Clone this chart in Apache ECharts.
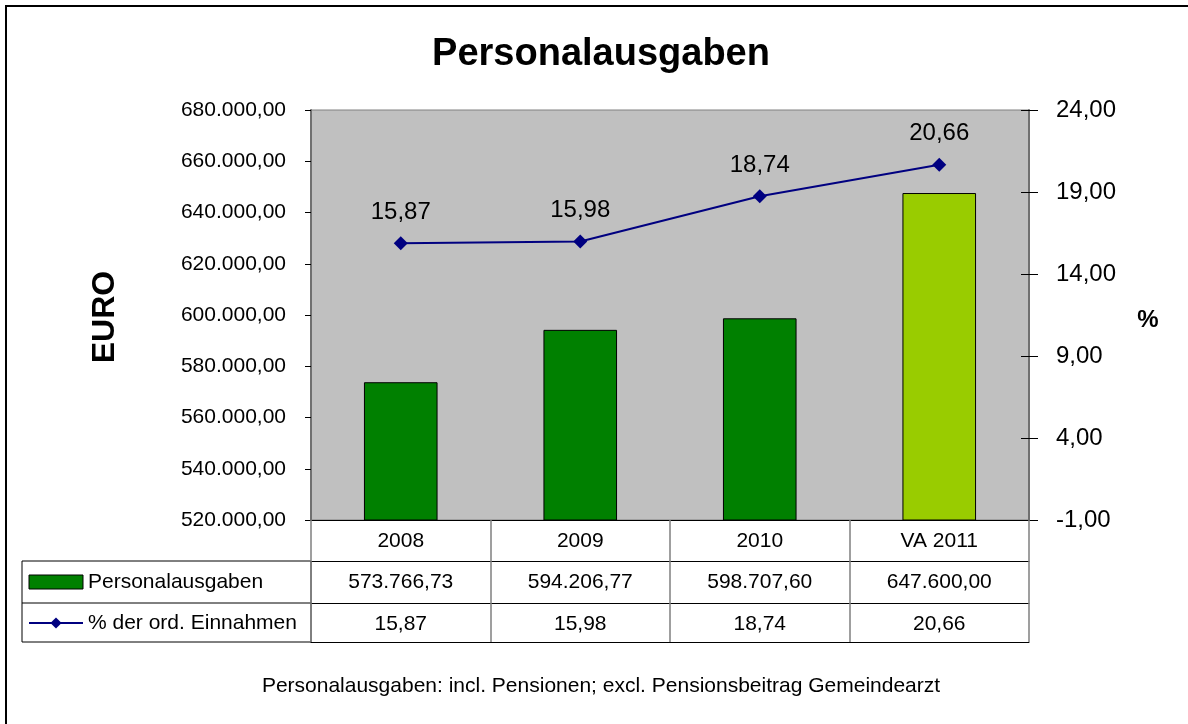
<!DOCTYPE html>
<html>
<head>
<meta charset="utf-8">
<script src="https://cdn.jsdelivr.net/npm/echarts@6/dist/echarts.min.js"></script>
<style>
html,body{margin:0;padding:0;background:#fff;}
#chart{width:1188px;height:724px;}
</style>
</head>
<body>
<div id="chart"></div>
<script>
// Daten
var categories = ['2008', '2009', '2010', 'VA 2011'];
var personal = [573766.73, 594206.77, 598707.60, 647600.00];
var percent = [15.87, 15.98, 18.74, 20.66];
var barColors = ['#008000', '#008000', '#008000', '#99CC00'];
var pctTicks = [-1, 4, 9, 14, 19, 24];

var FONT = 'Liberation Sans, Arial, sans-serif';

// 1234567.8 -> 1.234.567,80
function de(v){
	var s = Number(v).toFixed(2);
	var p = s.split('.');
	var neg = p[0].charAt(0) == '-';
	var ip = neg ? p[0].substring(1) : p[0];
	ip = ip.replace(/\B(?=(\d{3})+(?!\d))/g, '.');
	return (neg ? '-' : '') + ip + ',' + p[1];
}

var barData = [];
for(var i = 0; i < personal.length; i++){
	barData.push({value: personal[i], itemStyle: {color: barColors[i]}});
}

function tableAxis(offset, labels){
	return {
		type: 'category',
		position: 'bottom',
		offset: offset,
		data: categories,
		axisLine: {show: true, onZero: false, lineStyle: {color: '#000', width: 1}},
		axisTick: {show: false},
		axisLabel: {
			show: labels != null,
			margin: 21,
			verticalAlign: 'middle',
			fontSize: 21,
			fontFamily: FONT,
			color: '#000',
			formatter: function(v, idx){ return labels ? labels[idx] : ''; }
		}
	};
}

var chart = echarts.init(document.getElementById('chart'));
var option = {
	backgroundColor: '#fff',
	animation: false,
	grid: {
		left: 311, right: 159, top: 110, bottom: 204,
		show: true,
		backgroundColor: '#C0C0C0',
		borderColor: '#808080',
		borderWidth: 1
	},
	legend: {
		orient: 'vertical',
		left: 28,
		top: 571,
		padding: 0,
		itemWidth: 54,
		itemHeight: 14,
		itemGap: 19,
		selectedMode: false,
		textStyle: {fontSize: 21, fontFamily: FONT, color: '#000', lineHeight: 22},
		data: [
			{name: 'Personalausgaben', icon: 'rect', itemStyle: {color: '#008000', borderColor: '#000', borderWidth: 1}},
			{name: '% der ord. Einnahmen'}
		]
	},
	xAxis: [
		{
			type: 'category',
			position: 'bottom',
			data: categories,
			axisLine: {show: true, onZero: false, lineStyle: {color: '#000', width: 1}},
			axisTick: {show: true, length: 122, lineStyle: {color: '#808080', width: 1.5}},
			axisLabel: {
				margin: 21,
				verticalAlign: 'middle',
				fontSize: 21,
				fontFamily: FONT,
				color: '#000'
			}
		},
		tableAxis(41, personal.map(de)),
		tableAxis(83, percent.map(de)),
		tableAxis(122, null)
	],
	yAxis: [
		{
			type: 'value',
			position: 'left',
			min: 520000,
			max: 680000,
			interval: 20000,
			splitLine: {show: false},
			axisLine: {show: true, lineStyle: {color: '#707070', width: 2}},
			axisTick: {show: true, length: 6, lineStyle: {color: '#000'}},
			axisLabel: {
				margin: 25,
				fontSize: 21,
				fontFamily: FONT,
				color: '#000',
				formatter: function(v){ return de(v); }
			}
		},
		{
			type: 'value',
			position: 'right',
			min: -1,
			max: 24,
			splitLine: {show: false},
			axisLine: {show: true, lineStyle: {color: '#707070', width: 2}},
			axisTick: {show: true, length: 9, customValues: pctTicks, lineStyle: {color: '#000'}},
			axisLabel: {
				margin: 27,
				fontSize: 24,
				fontFamily: FONT,
				color: '#000',
				customValues: pctTicks,
				formatter: function(v){ return de(v); }
			}
		},
		{
			type: 'value',
			position: 'right',
			min: -1,
			max: 24,
			splitLine: {show: false},
			axisLine: {show: false},
			axisTick: {show: true, inside: true, length: 8, customValues: pctTicks, lineStyle: {color: '#000'}},
			axisLabel: {show: false, customValues: pctTicks}
		}
	],
	series: [
		{
			name: 'Personalausgaben',
			type: 'bar',
			xAxisIndex: 0,
			yAxisIndex: 0,
			barWidth: '41%',
			itemStyle: {color: '#008000', borderColor: '#000', borderWidth: 1},
			data: barData
		},
		{
			name: '% der ord. Einnahmen',
			type: 'line',
			xAxisIndex: 0,
			yAxisIndex: 1,
			symbol: 'diamond',
			symbolSize: 14,
			itemStyle: {color: '#000080'},
			lineStyle: {color: '#000080', width: 2},
			label: {
				show: true,
				position: 'top',
				distance: 12,
				fontSize: 24,
				fontFamily: FONT,
				color: '#000',
				formatter: function(p){ return de(p.value); }
			},
			data: percent
		}
	],
	graphic: [
		{
			type: 'rect',
			shape: {x: 6, y: 6, width: 1300, height: 800},
			style: {fill: null, stroke: '#000', lineWidth: 2},
			silent: true
		},
		{
			type: 'rect',
			shape: {x: 22, y: 561, width: 289, height: 81},
			style: {fill: null, stroke: '#000', lineWidth: 1},
			silent: true
		},
		{
			type: 'line',
			shape: {x1: 22, y1: 603, x2: 311, y2: 603},
			style: {stroke: '#000', lineWidth: 1},
			silent: true
		},
		{
			type: 'text',
			x: 601, y: 55,
			style: {text: 'Personalausgaben', font: 'bold 38px ' + FONT, fill: '#000', textAlign: 'center', textVerticalAlign: 'middle'}
		},
		{
			type: 'text',
			x: 105, y: 317,
			rotation: Math.PI / 2,
			style: {text: 'EURO', font: 'bold 32px ' + FONT, fill: '#000', textAlign: 'center', textVerticalAlign: 'middle'}
		},
		{
			type: 'text',
			x: 1148, y: 320,
			style: {text: '%', font: 'bold 24px ' + FONT, fill: '#000', textAlign: 'center', textVerticalAlign: 'middle'}
		},
		{
			type: 'text',
			x: 601, y: 686,
			style: {text: 'Personalausgaben: incl. Pensionen; excl. Pensionsbeitrag Gemeindearzt', font: '21px ' + FONT, fill: '#000', textAlign: 'center', textVerticalAlign: 'middle'}
		}
	]
};
chart.setOption(option);
</script>
</body>
</html>
